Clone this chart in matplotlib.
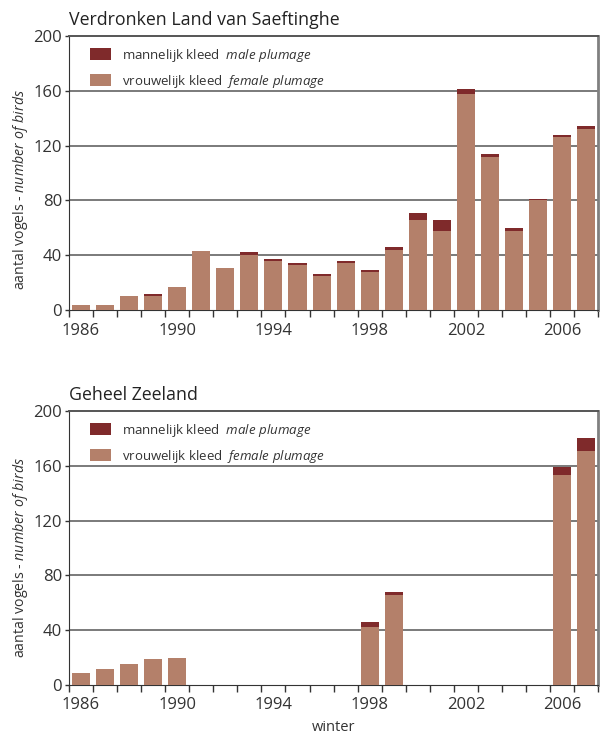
import numpy as np
import matplotlib
matplotlib.use('Agg')
import matplotlib.pyplot as plt

plt.rcParams['font.family'] = ['Open Sans', 'DejaVu Sans']
plt.rcParams['mathtext.fontset'] = 'custom'
plt.rcParams['mathtext.rm'] = 'Open Sans'
plt.rcParams['mathtext.it'] = 'Open Sans:italic'

# winters 1986 .. 2007
jaren = np.arange(1986, 2008)

# Verdronken Land van Saeftinghe
saef_vrouw = [4, 4, 10, 10, 17, 43, 31, 40, 36, 33, 25, 34,
              28, 44, 66, 58, 158, 112, 58, 80, 126, 132]
saef_man = [0, 0, 0, 2, 0, 0, 0, 2, 1, 1, 1, 2,
            1, 2, 5, 8, 3, 2, 2, 1, 2, 2]

# Geheel Zeeland
zee_vrouw = [9, 12, 15, 19, 20, 0, 0, 0, 0, 0, 0, 0,
             42, 66, 0, 0, 0, 0, 0, 0, 153, 171]
zee_man = [0, 0, 0, 0, 0, 0, 0, 0, 0, 0, 0, 0,
           4, 2, 0, 0, 0, 0, 0, 0, 6, 9]

titels = ['Verdronken Land van Saeftinghe', 'Geheel Zeeland']
kleur_vrouw = '#b4806a'
kleur_man = '#7f2a2b'

fig = plt.figure(figsize=(6, 7.36), dpi=100)
ax1 = fig.add_axes([0.115, 0.5788, 0.882, 0.3723])
ax2 = fig.add_axes([0.115, 0.0693, 0.882, 0.3723])

for ax, vrouw, man, titel, ymid in [(ax1, saef_vrouw, saef_man, titels[0], 0.44),
                                    (ax2, zee_vrouw, zee_man, titels[1], 0.465)]:
    ax.bar(jaren, man, width=0.75, bottom=vrouw, color=kleur_man, zorder=3,
           label=r'mannelijk kleed  $\mathit{male\ plumage}$')
    ax.bar(jaren, vrouw, width=0.75, color=kleur_vrouw, zorder=3,
           label=r'vrouwelijk kleed  $\mathit{female\ plumage}$')
    ax.set_xlim(1985.5, 2007.5)
    ax.set_ylim(0, 200)
    ax.set_yticks(np.arange(0, 201, 40))
    ax.set_xticks(np.arange(1986, 2008, 4))
    ax.set_xticks(np.arange(1985.5, 2008, 1), minor=True)
    ax.tick_params(axis='x', which='major', length=0, pad=9, labelsize=12, labelcolor='#333333')
    ax.tick_params(axis='x', which='minor', length=5, width=1, color='#333333')
    ax.tick_params(axis='y', length=3, width=1, pad=2, labelsize=12, labelcolor='#333333', color='#333333')
    for y in [40, 80, 120, 160]:
        ax.axhline(y, color='#7a7a7a', lw=1.4, zorder=1)
    ax.spines['left'].set_color('#333333')
    ax.spines['bottom'].set_color('#333333')
    ax.spines['top'].set_color('#555555')
    ax.spines['top'].set_linewidth(1.4)
    ax.spines['right'].set_color('#808080')
    ax.spines['right'].set_linewidth(2)
    ax.set_ylabel(r'aantal vogels - $\mathit{number\ of\ birds}$', fontsize=10.2, color='#333333')
    ax.yaxis.set_label_coords(-0.074, ymid)
    ax.text(0.0, 1.04, titel, transform=ax.transAxes, fontsize=12.8, color='#222222',
            ha='left', va='baseline')
    h, l = ax.get_legend_handles_labels()
    leg = ax.legend(h, l, loc='upper left', frameon=False, fontsize=9.5, handlelength=1.6,
                    handleheight=1.0, labelspacing=0.7, borderaxespad=0.4,
                    bbox_to_anchor=(0.02, 1.0))
    for t in leg.get_texts():
        t.set_color('#333333')

ax2.set_xlabel('winter', fontsize=10.5, color='#333333', labelpad=5)

plt.savefig('out.png', dpi=100)
